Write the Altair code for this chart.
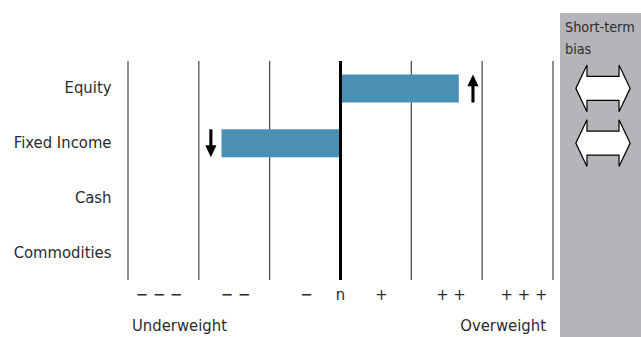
import altair as alt
import pandas as pd

# Asset classes and their positioning (scale from -3 = "− − −" to +3 = "+ + +")
categories = ["Equity", "Fixed Income", "Cash", "Commodities"]
positions = [1.67, -1.68, 0, 0]

# Recent change in positioning, shown as small arrows next to the bars
arrow_categories = ["Equity", "Fixed Income"]
arrow_x = [1.87, -1.83]
arrow_dir = ["up", "down"]

# Short-term bias markers (both neutral)
bias_categories = ["Equity", "Fixed Income"]

# Scale labels under the grid
tick_x = [-2.56, -1.48, -0.48, 0, 0.58, 1.56, 2.59]
tick_labels = ["− − −", "− −", "−", "n", "+", "+ +", "+ + +"]
grid_x = [-3, -2, -1, 1, 2, 3]

FONT = "DejaVu Sans Condensed, sans-serif"
FS = 16.5
TEXT = "#2b2b2b"
BAR = "#4a90b5"
PANEL = "#b4b5b9"

bars_df = pd.DataFrame({"category": categories, "position": positions})
arrows_df = pd.DataFrame({"category": arrow_categories, "x": arrow_x, "dir": arrow_dir})
bias_df = pd.DataFrame({"category": bias_categories})
ticks_df = pd.DataFrame({"x": tick_x, "label": tick_labels})
grid_df = pd.DataFrame({"x": grid_x})

xscale = alt.Scale(domain=[-3, 3], nice=False, zero=False)
yscale = alt.Scale(domain=categories, paddingInner=0, paddingOuter=0)

UP = "M0,-1 L0.4,-0.15 L0.11,-0.15 L0.11,1 L-0.11,1 L-0.11,-0.15 L-0.4,-0.15 Z"
DOWN = "M0,1 L0.4,0.15 L0.11,0.15 L0.11,-1 L-0.11,-1 L-0.11,0.15 L-0.4,0.15 Z"
DOUBLE = ("M-1,0 L-0.59,-0.86 L-0.59,-0.44 L0.59,-0.44 L0.59,-0.86 L1,0 "
          "L0.59,0.86 L0.59,0.44 L-0.59,0.44 L-0.59,0.86 Z")

# Grey "short-term bias" column on the right
panel = alt.Chart(bars_df).mark_rect(color=PANEL).encode(
    x=alt.value(432), x2=alt.value(513), y=alt.value(-48), y2=alt.value(276)
)

panel_title = alt.Chart(bars_df.head(1)).mark_text(
    text="Short-term\nbias", lineBreak="\n", lineHeight=22, align="left",
    baseline="alphabetic", font=FONT, fontSize=14.3, color=TEXT
).encode(x=alt.value(437), y=alt.value(-29))

grid = alt.Chart(grid_df).mark_rule(color="#444444", strokeWidth=1.2).encode(
    x=alt.X("x:Q", scale=xscale, axis=None)
)

bars = alt.Chart(bars_df).mark_bar(color=BAR, size=28).encode(
    x=alt.X("position:Q", scale=xscale, axis=None),
    x2=alt.datum(0),
    y=alt.Y("category:N", scale=yscale, sort=categories, title=None,
            axis=alt.Axis(domain=False, ticks=False, labelFont=FONT, labelFontSize=FS,
                          labelColor=TEXT, labelPadding=17, labelBaseline="middle")),
)

zero = alt.Chart(grid_df.head(1)).mark_rule(color="black", strokeWidth=3).encode(
    x=alt.datum(0)
)

arrows = alt.Chart(arrows_df).mark_point(filled=True, color="black", opacity=1, size=784).encode(
    x=alt.X("x:Q", scale=xscale),
    y=alt.Y("category:N", scale=yscale, sort=categories),
    shape=alt.Shape("dir:N", scale=alt.Scale(domain=["up", "down"], range=[UP, DOWN]), legend=None),
)

bias = alt.Chart(bias_df).mark_point(
    shape=DOUBLE, size=2950, filled=True, fill="white", stroke="black",
    strokeWidth=1.2, opacity=1
).encode(
    x=alt.value(475),
    y=alt.Y("category:N", scale=yscale, sort=categories),
)

tick_text = alt.Chart(ticks_df).mark_text(
    font=FONT, fontSize=FS, color=TEXT, baseline="alphabetic", align="center"
).encode(
    x=alt.X("x:Q", scale=xscale),
    y=alt.value(239),
    text="label:N",
)

under = alt.Chart(bars_df.head(1)).mark_text(
    text="Underweight", font=FONT, fontSize=FS, color=TEXT,
    align="left", baseline="alphabetic", dx=4
).encode(x=alt.datum(-3), y=alt.value(270))

over = alt.Chart(bars_df.head(1)).mark_text(
    text="Overweight", font=FONT, fontSize=FS, color=TEXT,
    align="right", baseline="alphabetic", dx=-7
).encode(x=alt.datum(3), y=alt.value(270))

chart = alt.layer(
    panel, panel_title, grid, bars, zero, arrows, bias, tick_text, under, over
).properties(
    width=425,
    height=219,
    background="white",
    autosize=alt.AutoSizeParams(type="none"),
    padding={"left": 128, "top": 61, "right": 88, "bottom": 57},
).configure_view(strokeWidth=0, stroke="transparent")

chart.save("out.html", embed_options={"renderer": "svg", "actions": False})
